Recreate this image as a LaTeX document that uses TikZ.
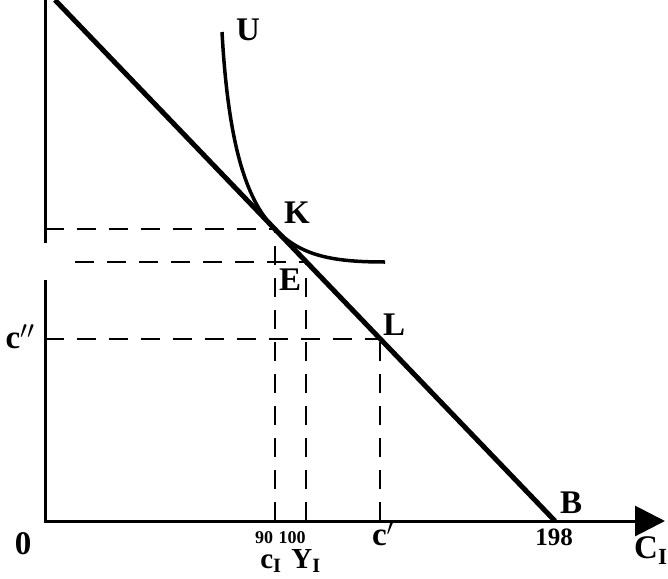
\documentclass[tikz,border=0pt]{standalone}
\usepackage{fontspec}
\setmainfont{Liberation Serif}
\usetikzlibrary{arrows.meta,positioning}

\begin{document}
\begin{tikzpicture}[x=1pt, y=-1pt, >=Latex,
    every node/.style={font=\fontsize{33}{35}\selectfont\bfseries, inner sep=0pt, anchor=base},
    axisline/.style={line width=3pt},
    guide/.style={line width=2.8pt, dash pattern=on 19pt off 13pt},
    numlbl/.style={font=\fontsize{25}{27}\selectfont\bfseries},
    smalllbl/.style={font=\fontsize{18}{20}\selectfont\bfseries, text depth=0pt},
    lowlbl/.style={font=\fontsize{29}{31}\selectfont\bfseries, text height=19pt}]
    \useasboundingbox (0,0) rectangle (668,578);
    \coordinate (O) at (45,521);
    \coordinate (A) at (55,0);
    \coordinate (B) at (555,521);
    \coordinate (K) at (275,229);
    \coordinate (E) at (306,262);
    \coordinate (L) at (380,339);
    \coordinate (Utop) at (222,32);
    \coordinate (Uend) at (385,262);

    % axes
    \draw[axisline] (45,0) -- (45,243);
    \draw[axisline, -{Triangle[length=30pt,width=30pt]}] (45,280) -- (O) -- (665,521);

    % guide lines
    \draw[guide] (K -| O) -- (K);
    \draw[guide] (75,262) -- (E);
    \draw[guide] (L -| O) -- (L);
    \foreach \p in {K,E,L}
        \draw[guide] (\p |- O) -- (\p);

    % budget line and indifference curve
    \draw[line width=5pt] (A) -- (B);
    \draw[line width=3.5pt] (Utop) .. controls (228,140) and (245,200) .. (K)
        .. controls (300,255) and (330,262) .. (Uend);

    \node (labU) at (248,41) {U};
    \node (labK) at (297,223) {K};
    \node (labE) at (290,290) {E};
    \node (labL) at (394,335) {L};
    \node (labB) at (571,513) {B};
    \node (labcpp) at (20,348) {c$''$};
    \node (labO) at (23,554) {0};
    \node[numlbl] (lab198) at (554,545) {198};
    \node[smalllbl] (lab90) at (264,543) {90};
    \node[smalllbl] (lab100) at (292,543) {100};
    \node (labcp) at (383,545) {c$'$};
    \node[lowlbl] (labcI) at (271,568) {c\textsubscript{I}};
    \node[lowlbl] (labYI) at (306,568) {Y\textsubscript{I}};
    \node[anchor=base west] (labCI) at (634,558) {C\textsubscript{I}};
\end{tikzpicture}
\end{document}
